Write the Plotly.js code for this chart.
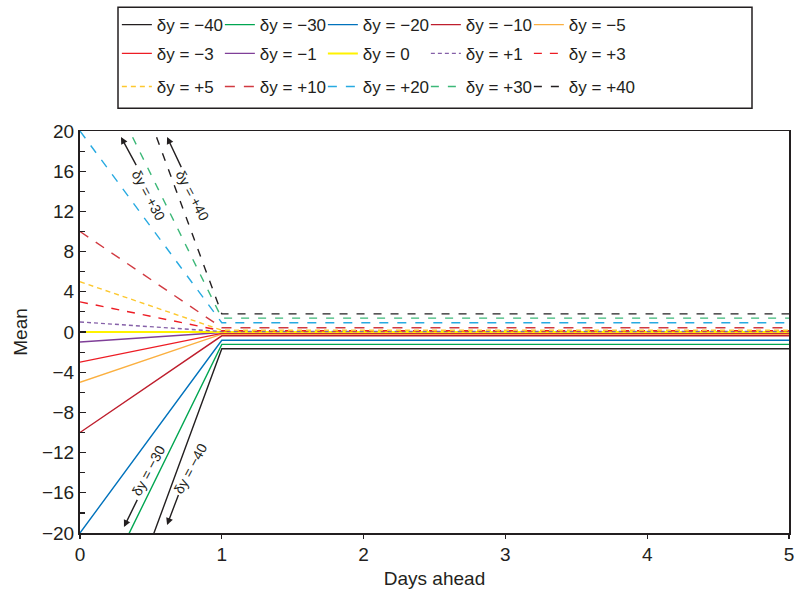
<!DOCTYPE html>
<html>
<head>
<meta charset="utf-8">
<script src="https://cdn.plot.ly/plotly-3.0.1.min.js"></script>
<style>html,body{margin:0;padding:0;background:#fff;}#chart{width:796px;height:596px;}</style>
</head>
<body>
<div id="chart"></div>
<script>
// Days ahead
const days = [0, 1, 2, 3, 4, 5];

// Series names (legend order)
const seriesNames = ['δy = −40','δy = −30','δy = −20','δy = −10','δy = −5',
                     'δy = −3','δy = −1','δy = 0','δy = +1','δy = +3',
                     'δy = +5','δy = +10','δy = +20','δy = +30','δy = +40'];

// Mean values
const yM40 = [-40, -1.66, -1.66, -1.66, -1.66, -1.66];
const yM30 = [-30, -1.23, -1.23, -1.23, -1.23, -1.23];
const yM20 = [-20, -0.82, -0.82, -0.82, -0.82, -0.82];
const yM10 = [-10, -0.38, -0.38, -0.38, -0.38, -0.38];
const yM5  = [-5, -0.22, -0.22, -0.22, -0.22, -0.22];
const yM3  = [-3, -0.14, -0.14, -0.14, -0.14, -0.14];
const yM1  = [-1, -0.05, -0.05, -0.05, -0.05, -0.05];
const y0   = [0, 0, 0, 0, 0, 0];
const yP1  = [1, 0.05, 0.05, 0.05, 0.05, 0.05];
const yP3  = [3, 0.12, 0.12, 0.12, 0.12, 0.12];
const yP5  = [5, 0.18, 0.18, 0.18, 0.18, 0.18];
const yP10 = [10, 0.43, 0.43, 0.43, 0.43, 0.43];
const yP20 = [20, 0.92, 0.92, 0.92, 0.92, 0.92];
const yP30 = [30, 1.38, 1.38, 1.38, 1.38, 1.38];
const yP40 = [40, 1.80, 1.80, 1.80, 1.80, 1.80];

const seriesValues = [yM40,yM30,yM20,yM10,yM5,yM3,yM1,y0,yP1,yP3,yP5,yP10,yP20,yP30,yP40];

const seriesColors = ['#231f20','#00a651','#0072bc','#be1e2d','#fbb040',
                      '#ed1c24','#7f3f98','#fff200','#8560a8','#ed1c24',
                      '#fdc82f','#d13a41','#27aae1','#3cb878','#231f20'];
const seriesDash = ['solid','solid','solid','solid','solid',
                    'solid','solid','solid','4px,3px','8px,8px',
                    '5px,4px','10px,9px','9px,9px','8px,9px','8px,9px'];
const legendIds = ['legend','legend','legend','legend','legend',
                   'legend2','legend2','legend2','legend2','legend2',
                   'legend3','legend3','legend3','legend3','legend3'];

const traces = seriesNames.map((nm, i) => ({
  type: 'scatter', mode: 'lines', x: days, y: seriesValues[i], name: nm,
  legend: legendIds[i],
  line: {color: seriesColors[i], width: i === 7 ? 2 : 1.4, dash: seriesDash[i]},
  hoverinfo: 'skip'
}));

// invisible spacer entries so the last legend entry of each row is not clipped
['legend', 'legend2', 'legend3'].forEach(lg => {
  traces.push({type: 'scatter', mode: 'lines', x: [null], y: [null], name: ' ',
    legend: lg, line: {color: 'rgba(0,0,0,0)', width: 0}, hoverinfo: 'skip'});
});

const fontFam = 'Liberation Sans, Arial, Helvetica, sans-serif';
const txtCol = '#231f20';

function legendRow(y) {
  return {orientation: 'h', x: 0.052, xanchor: 'left', y: y, yanchor: 'middle',
          entrywidth: 58, bgcolor: 'rgba(0,0,0,0)', borderwidth: 0,
          font: {family: fontFam, size: 17, color: txtCol}, itemclick: false};
}

// Annotation labels along the steep lines
const labelTexts = ['δy = +30', 'δy = +40', 'δy = −30', 'δy = −40'];
const labelX = [0.48, 0.79, 0.48, 0.776];
const labelY = [13.6, 13.6, -13.8, -13.6];
const labelAngle = [62, 62, -62, -62];
const arrowHeadX = [0.289, 0.614, 0.31, 0.614];
const arrowHeadY = [19.4, 19.4, -19.4, -19.2];
const arrowTailX = [0.402, 0.719, 0.409, 0.698];
const arrowTailY = [16.45, 16.26, -16.55, -16.06];

const annotations = [];
labelTexts.forEach((t, i) => {
  annotations.push({x: labelX[i], y: labelY[i], xref: 'x', yref: 'y', text: t,
    showarrow: false, textangle: labelAngle[i],
    font: {family: fontFam, size: 14, color: txtCol}});
  annotations.push({x: arrowHeadX[i], y: arrowHeadY[i], ax: arrowTailX[i], ay: arrowTailY[i],
    xref: 'x', yref: 'y', axref: 'x', ayref: 'y', text: '', showarrow: true,
    arrowhead: 2, arrowsize: 1, arrowwidth: 1.4, arrowcolor: txtCol});
});

const layout = {
  width: 796, height: 596,
  margin: {l: 80, r: 7, t: 127, b: 63},
  paper_bgcolor: '#fff', plot_bgcolor: '#fff',
  font: {family: fontFam, size: 18, color: txtCol},
  showlegend: true,
  legend: legendRow(1.2635),
  legend2: legendRow(1.1919),
  legend3: legendRow(1.1095),
  xaxis: {
    range: [0, 5], tickmode: 'linear', tick0: 0, dtick: 1,
    showgrid: false, zeroline: false,
    showline: true, linecolor: txtCol, linewidth: 1.5, mirror: true,
    ticks: 'outside', ticklen: 4, tickcolor: txtCol, tickwidth: 1.2,
    tickfont: {family: fontFam, size: 19, color: txtCol},
    title: {text: 'Days ahead', font: {family: fontFam, size: 19, color: txtCol}, standoff: 7}
  },
  yaxis: {
    range: [-20, 20], tickmode: 'linear', tick0: -20, dtick: 4,
    showgrid: false, zeroline: false,
    showline: true, linecolor: txtCol, linewidth: 2, mirror: true,
    ticks: 'inside', ticklen: 6, tickcolor: txtCol, tickwidth: 1.2,
    minor: {dtick: 2, ticks: 'inside', ticklen: 5, tickcolor: txtCol, tickwidth: 1.2, showgrid: false},
    tickfont: {family: fontFam, size: 19, color: txtCol},
    title: {text: 'Mean', font: {family: fontFam, size: 19, color: txtCol}, standoff: 9}
  },
  shapes: [{type: 'rect', xref: 'paper', yref: 'paper',
    x0: (118 - 80) / 709, x1: (752 - 80) / 709, y0: (533 - 104) / 406, y1: (533 - 2) / 406,
    line: {color: txtCol, width: 1.5}, fillcolor: 'rgba(0,0,0,0)'}],
  annotations: annotations
};

Plotly.newPlot('chart', traces, layout, {displayModeBar: false, staticPlot: true});
</script>
</body>
</html>
